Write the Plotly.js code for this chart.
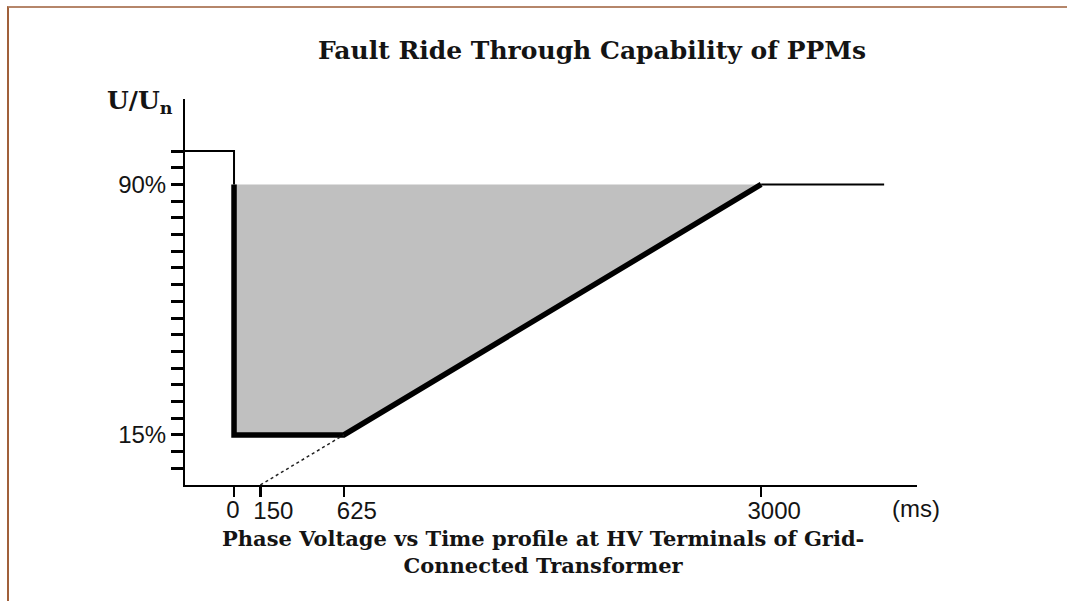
<!DOCTYPE html>
<html>
<head>
<meta charset="utf-8">
<script src="https://cdn.plot.ly/plotly-3.0.1.min.js"></script>
<style>
  html, body { margin: 0; padding: 0; background: #ffffff; }
  #wrap { position: relative; width: 1067px; height: 601px; overflow: hidden; }
  #frame { position: absolute; left: 7px; top: 6px; right: -10px; bottom: -10px;
           border-top: 2px solid #b5866a; border-left: 2px solid #a0603a; pointer-events: none; z-index: 5; }
  #chart { position: absolute; left: 0; top: 0; width: 1067px; height: 601px; }
</style>
</head>
<body>
<div id="wrap">
  <div id="chart"></div>
  <div id="frame"></div>
</div>
<script>
// ---- data (time in ms, voltage in % of Un) ----
const xRange = [-279, 3887];
const yRange = [0, 115.6];

const preFaultTime = [xRange[0], 0, 0];
const preFaultVolt = [100, 100, 90];

const ftrTime = [0, 0, 625, 3000];
const ftrVolt = [90, 15, 15, 90];

const areaTime = [0, 0, 625, 3000, 0];
const areaVolt = [90, 15, 15, 90, 90];

const postTime = [3000, 3700];
const postVolt = [90, 90];

const extTime = [150, 625];
const extVolt = [0, 15];

const xTickVals = [0, 150, 625, 3000];
const xTickText = ['0', '150', '625', '3000'];

const yTickVals = [5, 10, 15, 20, 25, 30, 35, 40, 45, 50, 55, 60, 65, 70, 75, 80, 85, 90, 95, 100];
const yTickText = ['', '', '15%', '', '', '', '', '', '', '', '', '', '', '', '', '', '', '90%', '', ''];

const titleText = 'Fault Ride Through Capability of PPMs';
const yLabelText = 'U/U<sub>n</sub>';
const xUnitText = '(ms)';
const captionText = 'Phase Voltage vs Time profile at HV Terminals of Grid-<br>Connected Transformer';

// ---- styling ----
const sans = 'Liberation Sans, Arial, sans-serif';
const serif = 'DejaVu Serif, Cambria, serif';
const ink = '#141414';

const traces = [
  { x: areaTime, y: areaVolt, type: 'scatter', mode: 'lines', fill: 'toself',
    fillcolor: '#c0c0c0', line: { width: 0, color: 'rgba(0,0,0,0)' }, hoverinfo: 'skip', showlegend: false },
  { x: extTime, y: extVolt, type: 'scatter', mode: 'lines', xaxis: 'x2',
    line: { color: '#222', width: 1.5, dash: 'dot' }, hoverinfo: 'skip', showlegend: false },
  { x: preFaultTime, y: preFaultVolt, type: 'scatter', mode: 'lines',
    line: { color: '#000', width: 2 }, hoverinfo: 'skip', showlegend: false },
  { x: postTime, y: postVolt, type: 'scatter', mode: 'lines',
    line: { color: '#000', width: 2 }, hoverinfo: 'skip', showlegend: false },
  { x: ftrTime, y: ftrVolt, type: 'scatter', mode: 'lines',
    line: { color: '#000', width: 5.5 }, hoverinfo: 'skip', showlegend: false }
];

// labels "150", "625", "3000" sit right of their ticks; "0" sits centred
const mainXText = xTickText.map((t, i) => xTickVals[i] === 0 ? '' : t);
const zeroXText = xTickText.filter((t, i) => xTickVals[i] === 0);

const layout = {
  width: 1067, height: 601,
  margin: { l: 185, r: 150, t: 99, b: 116 },
  paper_bgcolor: '#ffffff', plot_bgcolor: '#ffffff',
  showlegend: false,
  title: {
    text: titleText,
    font: { family: serif, size: 25, color: ink, weight: 'bold' },
    xref: 'container', x: 592 / 1067, xanchor: 'center',
    yref: 'container', y: 1 - 50 / 601, yanchor: 'middle'
  },
  xaxis: {
    range: xRange, showgrid: false, zeroline: false,
    showline: true, linecolor: '#000', linewidth: 2,
    ticks: 'outside', ticklen: 10, tickwidth: 2.5, tickcolor: '#000',
    tickmode: 'array', tickvals: xTickVals, ticktext: mainXText,
    tickangle: 0, ticklabelshift: 13, ticklabelstandoff: -7,
    tickfont: { family: sans, size: 24, color: ink }
  },
  xaxis2: {
    overlaying: 'x', anchor: 'y', side: 'bottom',
    range: xRange, showgrid: false, zeroline: false, showline: false,
    ticks: 'outside', ticklen: 10, tickwidth: 1, tickcolor: 'rgba(0,0,0,0)',
    tickmode: 'array', tickvals: xTickVals.filter(v => v === 0), ticktext: zeroXText,
    tickangle: 0, ticklabelshift: -1, ticklabelstandoff: -7,
    tickfont: { family: sans, size: 24, color: ink }
  },
  yaxis: {
    range: yRange, showgrid: false, zeroline: false,
    showline: true, linecolor: '#000', linewidth: 2,
    ticks: 'outside', ticklen: 12, tickwidth: 3, tickcolor: '#000',
    tickmode: 'array', tickvals: yTickVals, ticktext: yTickText,
    tickfont: { family: sans, size: 24, color: ink }
  },
  annotations: [
    { text: yLabelText, xref: 'paper', yref: 'paper',
      x: (140 - 185) / 732, y: (485 - 102) / 386, xanchor: 'center', yanchor: 'middle',
      showarrow: false, font: { family: serif, size: 25, color: ink, weight: 'bold' } },
    { text: xUnitText, xref: 'paper', yref: 'paper',
      x: (916 - 185) / 732, y: (485 - 508) / 386, xanchor: 'center', yanchor: 'middle',
      showarrow: false, font: { family: sans, size: 24, color: ink } },
    { text: captionText, xref: 'paper', yref: 'paper',
      x: (543 - 185) / 732, y: (485 - 552) / 386, xanchor: 'center', yanchor: 'middle',
      showarrow: false, align: 'center',
      font: { family: serif, size: 21, color: ink, weight: 'bold' } }
  ]
};

Plotly.newPlot('chart', traces, layout, { staticPlot: true, displayModeBar: false });
</script>
</body>
</html>
